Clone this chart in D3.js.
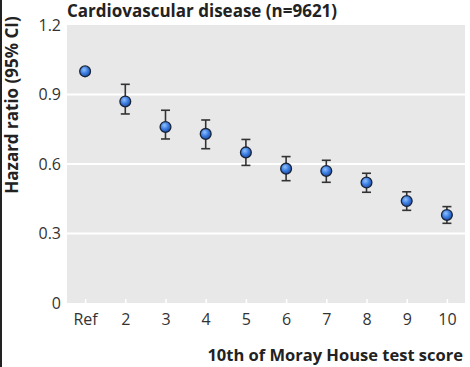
<!DOCTYPE html>
<html><head><meta charset="utf-8">
<script src="https://cdn.jsdelivr.net/npm/d3@7"></script>
<style>body{margin:0;background:#fff;}svg{display:block;}text{font-family:"Open Sans",sans-serif;}</style>
</head><body>
<svg id="c" width="470" height="367"></svg>
<script>
const categories = ["Ref","2","3","4","5","6","7","8","9","10"];
const hr    = [1.00,0.87,0.76,0.73,0.65,0.58,0.57,0.52,0.44,0.38];
const lower = [null,0.816,0.708,0.666,0.594,0.528,0.521,0.478,0.40,0.344];
const upper = [null,0.944,0.832,0.79,0.706,0.632,0.616,0.56,0.48,0.416];
const yTicks = [0,0.3,0.6,0.9,1.2];
const yTickLabels = ["0","0.3","0.6","0.9","1.2"];
const title = "Cardiovascular disease (n=9621)";
const xTitle = "10th of Moray House test score";
const yTitle = "Hazard ratio (95% CI)";

const svg = d3.select("#c");
const L=67,R=465,T=25,B=303;
const x = d3.scalePoint().domain(categories).range([L,R]).padding(0.45);
const y = d3.scaleLinear().domain([0,1.2]).range([B,T]);

const defs = svg.append("defs");
const g = defs.append("radialGradient").attr("id","pt").attr("cx","40%").attr("cy","35%").attr("r","65%");
g.append("stop").attr("offset","0%").attr("stop-color","#8fc0ff");
g.append("stop").attr("offset","55%").attr("stop-color","#3b7de0");
g.append("stop").attr("offset","100%").attr("stop-color","#1f4fa8");

// left frame line
svg.append("rect").attr("x",0).attr("y",0).attr("width",2).attr("height",367).attr("fill","#222");

svg.append("rect").attr("x",L).attr("y",T).attr("width",R-L).attr("height",B-T).attr("fill","#e8e8e8");

svg.append("g").selectAll("line").data(yTicks.filter(d=>d>0&&d<1.2)).join("line")
  .attr("x1",L).attr("x2",R).attr("y1",d=>y(d)).attr("y2",d=>y(d))
  .attr("stroke","#fff").attr("stroke-width",2.2);

// y axis
const ya = svg.append("g").attr("transform",`translate(${L},0)`)
  .call(d3.axisLeft(y).tickValues(yTicks).tickFormat((d,i)=>yTickLabels[i]).tickSize(0).tickPadding(6));
ya.select(".domain").remove();
ya.selectAll("text").attr("font-size",16).attr("fill","#333").attr("font-family","Open Sans");

// x axis
const xa = svg.append("g").attr("transform",`translate(0,${B})`)
  .call(d3.axisBottom(x).tickSize(-4).tickPadding(8));
xa.select(".domain").remove();
xa.selectAll("line").attr("stroke","#fff").attr("stroke-width",1.5);
xa.selectAll("text").attr("font-size",16).attr("fill","#333").attr("font-family","Open Sans").attr("dy","0.9em");

// error bars
const eb = categories.map((c,i)=>({c,lo:lower[i],hi:upper[i]})).filter(d=>d.lo!=null);
const eg = svg.append("g").attr("stroke","#333").attr("stroke-width",1.6);
eg.selectAll(".v").data(eb).join("line").attr("x1",d=>x(d.c)).attr("x2",d=>x(d.c)).attr("y1",d=>y(d.lo)).attr("y2",d=>y(d.hi));
eg.selectAll(".t").data(eb).join("line").attr("x1",d=>x(d.c)-4.5).attr("x2",d=>x(d.c)+4.5).attr("y1",d=>y(d.hi)).attr("y2",d=>y(d.hi));
eg.selectAll(".b").data(eb).join("line").attr("x1",d=>x(d.c)-4.5).attr("x2",d=>x(d.c)+4.5).attr("y1",d=>y(d.lo)).attr("y2",d=>y(d.lo));

svg.append("g").selectAll("circle").data(categories.map((c,i)=>({c,v:hr[i]}))).join("circle")
  .attr("cx",d=>x(d.c)).attr("cy",d=>y(d.v)).attr("r",5.4)
  .attr("fill","url(#pt)").attr("stroke","#1a2438").attr("stroke-width",1.3);

svg.append("text").attr("x",L).attr("y",17).attr("font-size",17).attr("font-weight","bold").attr("fill","#222").text(title);
svg.append("text").attr("x",463).attr("y",361).attr("text-anchor","end").attr("font-size",16.5).attr("font-weight","bold").attr("fill","#222").text(xTitle);
svg.append("text").attr("transform","translate(18,105) rotate(-90)").attr("text-anchor","middle").attr("font-size",17).attr("font-weight","bold").attr("fill","#222").text(yTitle);
</script>
</body></html>
